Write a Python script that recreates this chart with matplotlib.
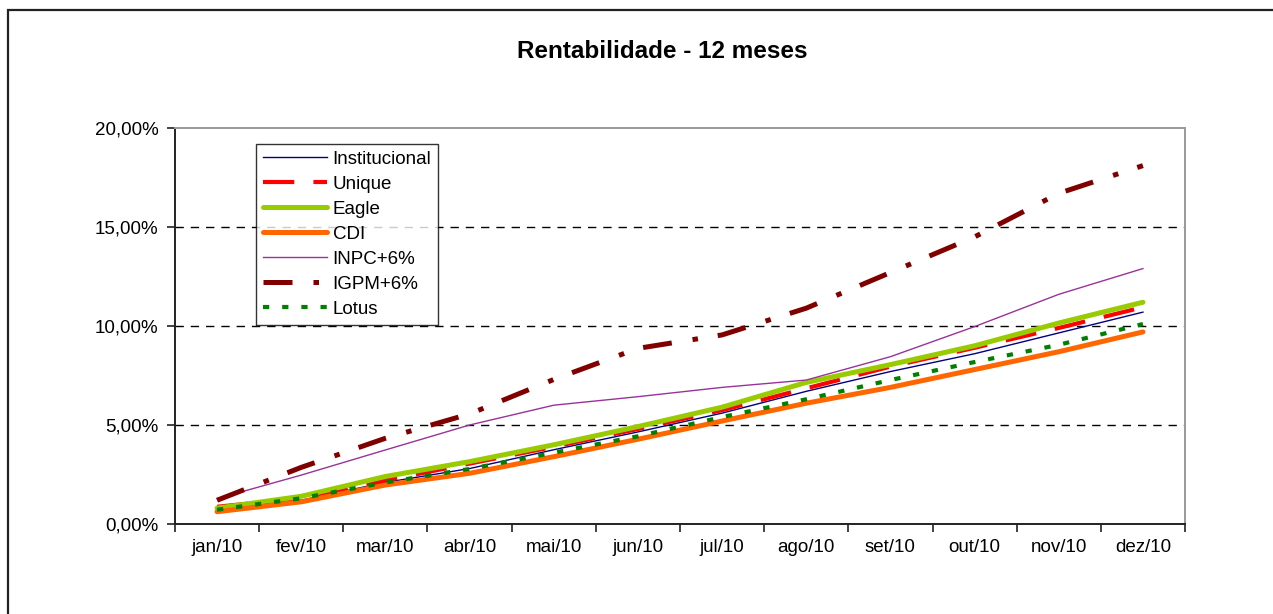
import matplotlib
matplotlib.use("Agg")
import matplotlib.pyplot as plt
from matplotlib.patches import Rectangle
from matplotlib.ticker import FuncFormatter, FixedLocator

plt.rcParams['font.family'] = ['Liberation Sans', 'DejaVu Sans']

meses = ['jan/10', 'fev/10', 'mar/10', 'abr/10', 'mai/10', 'jun/10',
         'jul/10', 'ago/10', 'set/10', 'out/10', 'nov/10', 'dez/10']
institucional = [0.8, 1.2, 2.1, 2.8, 3.75, 4.65, 5.6, 6.7, 7.7, 8.6, 9.65, 10.7]
unique = [0.87, 1.3, 2.2, 3.05, 3.9, 4.8, 5.75, 6.85, 7.95, 8.9, 9.9, 10.95]
eagle = [0.8, 1.4, 2.4, 3.15, 4.0, 4.92, 5.9, 7.15, 8.05, 9.0, 10.15, 11.2]
cdi = [0.62, 1.12, 1.97, 2.56, 3.4, 4.28, 5.2, 6.1, 6.9, 7.8, 8.7, 9.7]
inpc = [1.28, 2.47, 3.74, 5.0, 6.0, 6.43, 6.9, 7.27, 8.45, 9.97, 11.6, 12.9]
igpm = [1.2, 2.86, 4.33, 5.56, 7.3, 8.87, 9.55, 10.9, 12.7, 14.5, 16.7, 18.1]
lotus = [0.72, 1.3, 2.1, 2.78, 3.6, 4.43, 5.4, 6.3, 7.27, 8.18, 9.05, 10.1]

W, H = 1273, 614
fig = plt.figure(figsize=(W / 100, H / 100), dpi=100)
fig.patch.set_facecolor('white')

# outer chart border
fig.patches.append(Rectangle((8 / W, -0.05), 1.1, 1 - 10 / H + 0.05,
                             transform=fig.transFigure, fill=False,
                             edgecolor='#222222', linewidth=1.6, zorder=0))

ax = fig.add_axes([175 / W, 1 - 524 / H, (1185 - 175) / W, (524 - 128) / H])
x = list(range(len(meses)))

ax.plot(x, institucional, color='#000080', lw=1.0, label='Institucional')
ax.plot(x, unique, color='#FF0000', lw=3.0, dashes=(7.5, 4.6), label='Unique')
ax.plot(x, eagle, color='#99CC00', lw=3.6, solid_capstyle='round', label='Eagle')
ax.plot(x, cdi, color='#FF6600', lw=3.6, solid_capstyle='round', label='CDI')
ax.plot(x, inpc, color='#993399', lw=1.0, label='INPC+6%')
ax.plot(x, igpm, color='#800000', lw=3.6, dashes=(5.8, 4.2, 1.1, 4.0), label='IGPM+6%')
ax.plot(x, lotus, color='#008000', lw=3.0, dashes=(1.5, 3.1), label='Lotus')

ax.set_xlim(-0.5, len(meses) - 0.5)
ax.set_ylim(0, 20)

ax.xaxis.set_major_locator(FixedLocator([i - 0.5 for i in range(len(meses) + 1)]))
ax.xaxis.set_minor_locator(FixedLocator(x))
ax.set_xticklabels([''] * (len(meses) + 1))
ax.set_xticklabels(meses, minor=True)
ax.tick_params(axis='x', which='major', direction='out', length=6, width=1.2, color='#222222')
ax.tick_params(axis='x', which='minor', length=0, pad=11, labelsize=13.5)

ax.set_yticks([0, 5, 10, 15, 20])
ax.yaxis.set_major_formatter(FuncFormatter(lambda v, p: f"{v:.2f}%".replace('.', ',')))
ax.tick_params(axis='y', direction='out', length=6, width=1.2, color='#222222',
               pad=6, labelsize=13.5)

for yv in [5, 10, 15]:
    ax.axhline(yv, color='black', lw=1.0, dashes=(6, 5), zorder=0.5)

for s in ['left', 'bottom']:
    ax.spines[s].set_color('#222222')
    ax.spines[s].set_linewidth(1.4)
for s in ['top', 'right']:
    ax.spines[s].set_color('#999999')
    ax.spines[s].set_linewidth(1.4)

fig.text(662 / W, 1 - 52 / H, 'Rentabilidade - 12 meses', ha='center', va='center',
         fontsize=17.5, fontweight='bold')

leg = ax.legend(loc='upper left', bbox_to_anchor=(256 / W, 1 - 144 / H),
                bbox_transform=fig.transFigure, fontsize=13.5, frameon=True,
                fancybox=False, edgecolor='black', handlelength=3.45,
                handletextpad=0.27, labelspacing=0.42, borderpad=0.36,
                borderaxespad=0)
leg.get_frame().set_linewidth(1.0)

fig.savefig('out.png', dpi=100)
